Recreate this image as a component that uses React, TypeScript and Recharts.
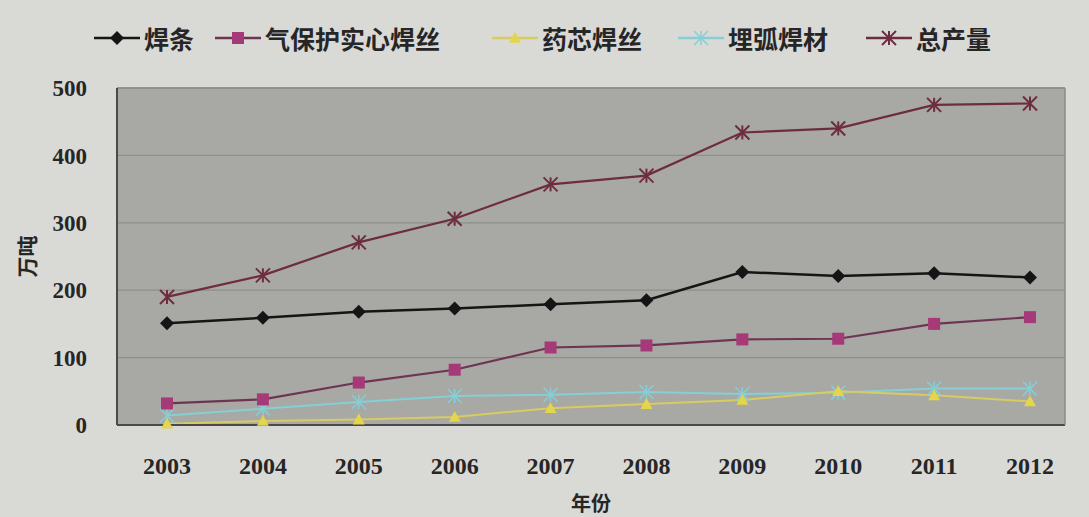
import React from 'react';
import { LineChart, Line, XAxis, YAxis, CartesianGrid, Legend } from 'recharts';

const years = ['2003', '2004', '2005', '2006', '2007', '2008', '2009', '2010', '2011', '2012'];
const hanTiao = [151, 159, 168, 173, 179, 185, 227, 221, 225, 219];
const qiBao = [32, 38, 63, 82, 115, 118, 127, 128, 150, 160];
const yaoXin = [2, 6, 8, 12, 25, 31, 37, 50, 44, 35];
const maiHu = [14, 24, 34, 43, 45, 49, 46, 48, 54, 54];
const total = [190, 222, 271, 306, 357, 370, 434, 440, 475, 477];
const yTicks = [0, 100, 200, 300, 400, 500];

const seriesNames = ['焊条', '气保护实心焊丝', '药芯焊丝', '埋弧焊材', '总产量'];

const data = years.map((y, i) => ({
  year: y,
  hanTiao: hanTiao[i],
  qiBao: qiBao[i],
  yaoXin: yaoXin[i],
  maiHu: maiHu[i],
  total: total[i],
}));

const C_BLACK = '#151515';
const C_MAG = '#a63a78';
const C_MAG_LINE = '#6e3552';
const C_YEL = '#e4d64a';
const C_YEL_LINE = '#d6cc62';
const C_CYAN = '#86cfd6';
const C_TOT = '#6e2c40';

const Diamond = (p: any) => {
  const { cx, cy, index } = p;
  if (cx == null || cy == null) return <g key={index} />;
  const s = 7;
  return <polygon key={index} points={`${cx},${cy - s} ${cx + s},${cy} ${cx},${cy + s} ${cx - s},${cy}`} fill={C_BLACK} />;
};
const Square = (p: any) => {
  const { cx, cy, index } = p;
  if (cx == null || cy == null) return <g key={index} />;
  const s = 6;
  return <rect key={index} x={cx - s} y={cy - s} width={2 * s} height={2 * s} fill={C_MAG} />;
};
const Tri = (p: any) => {
  const { cx, cy, index } = p;
  if (cx == null || cy == null) return <g key={index} />;
  const s = 6;
  return <polygon key={index} points={`${cx},${cy - s} ${cx + s},${cy + s * 0.8} ${cx - s},${cy + s * 0.8}`} fill={C_YEL} />;
};
const Star = (color: string, w: number) => (p: any) => {
  const { cx, cy, index } = p;
  if (cx == null || cy == null) return <g key={index} />;
  const s = 7;
  return (
    <g key={index} stroke={color} strokeWidth={w}>
      <line x1={cx - s} y1={cy - s} x2={cx + s} y2={cy + s} />
      <line x1={cx - s} y1={cy + s} x2={cx + s} y2={cy - s} />
      <line x1={cx} y1={cy - s} x2={cx} y2={cy + s} />
    </g>
  );
};

const legendItems = [
  { name: seriesNames[0], color: C_BLACK, marker: 'diamond', ml: 94 },
  { name: seriesNames[1], color: C_MAG_LINE, marker: 'square', ml: 21 },
  { name: seriesNames[2], color: C_YEL_LINE, marker: 'tri', ml: 52 },
  { name: seriesNames[3], color: C_CYAN, marker: 'cyan', ml: 36 },
  { name: seriesNames[4], color: C_TOT, marker: 'tot', ml: 38 },
];

const LegendMarker = ({ marker, color }: { marker: string; color: string }) => {
  const cx = 23, cy = 12;
  let m: React.ReactNode = null;
  if (marker === 'diamond') m = <Diamond cx={cx} cy={cy} index={0} />;
  if (marker === 'square') m = <Square cx={cx} cy={cy} index={0} />;
  if (marker === 'tri') m = <Tri cx={cx} cy={cy} index={0} />;
  if (marker === 'cyan') m = Star(C_CYAN, 1.5)({ cx, cy, index: 0 });
  if (marker === 'tot') m = Star(C_TOT, 2)({ cx, cy, index: 0 });
  return (
    <svg width={46} height={24} style={{ display: 'block' }}>
      <line x1={0} y1={cy} x2={46} y2={cy} stroke={color} strokeWidth={2.5} />
      {m}
    </svg>
  );
};

const renderLegend = () => (
  <div style={{ display: 'flex', alignItems: 'center', height: 40 }}>
    {legendItems.map((it) => (
      <div key={it.name} style={{ display: 'flex', alignItems: 'center', marginLeft: it.ml }}>
        <LegendMarker marker={it.marker} color={it.color} />
        <span
          style={{
            marginLeft: 4,
            fontFamily: '"Noto Sans CJK SC", sans-serif',
            fontWeight: 700,
            fontSize: 25,
            color: '#262626',
            lineHeight: '30px',
          }}
        >
          {it.name}
        </span>
      </div>
    ))}
  </div>
);

const tickStyle = { fontFamily: '"Liberation Serif", serif', fontSize: 23, fill: '#262626', fontWeight: 700 };

export default function App() {
  return (
    <div style={{ position: 'absolute', left: 0, top: 0, width: 1089, height: 517, background: '#d9d9d6' }}>
      <LineChart width={1089} height={517} data={data} margin={{ top: 0, right: 0, bottom: 0, left: 0 }}>
        <CartesianGrid vertical={false} fill="#a8a8a4" stroke="#8e8e8a" strokeWidth={1.2} />
        <XAxis
          dataKey="year"
          height={92}
          padding={{ left: 50, right: 35 }}
          axisLine={{ stroke: '#4a4a4a', strokeWidth: 2 }}
          tickLine={false}
          tickMargin={26}
          tick={{ ...tickStyle, fontSize: 24 }}
          interval={0}
          label={{
            value: '年份',
            position: 'insideBottom',
            offset: 6,
            style: { fontFamily: '"Noto Sans CJK SC", sans-serif', fontWeight: 700, fontSize: 20, fill: '#262626' },
          }}
        />
        <XAxis xAxisId="top" orientation="top" dataKey="year" height={48} axisLine={{ stroke: '#8a8a86', strokeWidth: 1.5 }} tick={false} tickLine={false} padding={{ left: 50, right: 35 }} />
        <YAxis
          width={117}
          domain={[0, 500]}
          ticks={yTicks}
          axisLine={{ stroke: '#4a4a4a', strokeWidth: 2 }}
          tickLine={false}
          tickSize={0}
          tickMargin={30}
          tick={tickStyle}
          label={{
            value: '万吨',
            angle: -90,
            position: 'insideLeft',
            offset: 28,
            style: { fontFamily: '"Noto Sans CJK SC", sans-serif', fontWeight: 700, fontSize: 21, fill: '#262626', textAnchor: 'middle' },
          }}
        />
        <YAxis yAxisId="right" orientation="right" width={24} domain={[0, 500]} axisLine={{ stroke: '#8a8a86', strokeWidth: 1.5 }} tick={false} tickLine={false} />
        <Legend verticalAlign="top" content={renderLegend} wrapperStyle={{ top: 18, left: 0, width: 1089 }} />
        <Line type="linear" dataKey="maiHu" name={seriesNames[3]} stroke={C_CYAN} strokeWidth={2} dot={Star(C_CYAN, 1.5)} isAnimationActive={false} />
        <Line type="linear" dataKey="yaoXin" name={seriesNames[2]} stroke={C_YEL_LINE} strokeWidth={2} dot={Tri} isAnimationActive={false} />
        <Line type="linear" dataKey="qiBao" name={seriesNames[1]} stroke={C_MAG_LINE} strokeWidth={2.2} dot={Square} isAnimationActive={false} />
        <Line type="linear" dataKey="hanTiao" name={seriesNames[0]} stroke={C_BLACK} strokeWidth={2.5} dot={Diamond} isAnimationActive={false} />
        <Line type="linear" dataKey="total" name={seriesNames[4]} stroke={C_TOT} strokeWidth={2.2} dot={Star(C_TOT, 2)} isAnimationActive={false} />
      </LineChart>
    </div>
  );
}
